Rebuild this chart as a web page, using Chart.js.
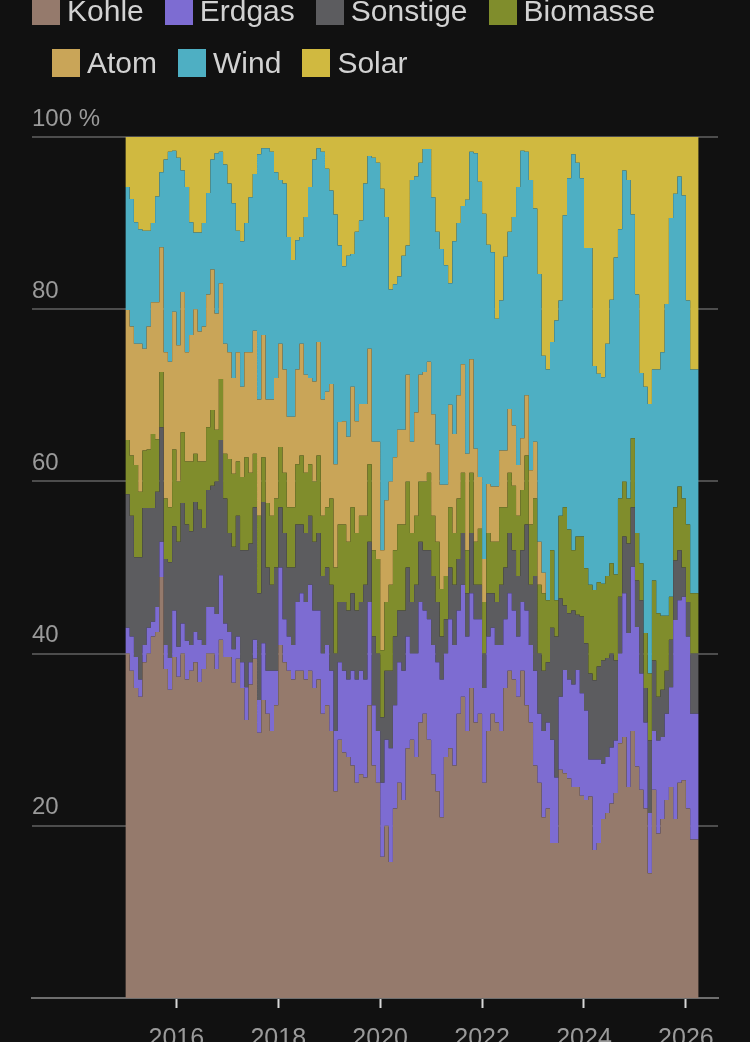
<!DOCTYPE html>
<html lang="de">
<head>
<meta charset="utf-8">
<title>Strommix</title>
<script src="https://cdn.jsdelivr.net/npm/chart.js@4.4.1/dist/chart.umd.min.js"></script>
<style>
    html, body { margin: 0; padding: 0; background: #111111; overflow: hidden; }
    #wrap { position: relative; width: 750px; height: 1042px; }
    #chart { position: absolute; left: 0; top: 0; }
    .legend-row {
        position: absolute; display: flex; align-items: flex-start;
        font-family: "Liberation Sans", Arial, sans-serif; font-size: 30px; line-height: 28px;
        color: #d2d2d2; white-space: nowrap;
    }
    .legend-item { display: flex; align-items: flex-start; margin-right: 21px; }
    .legend-box { width: 28px; height: 28px; margin-right: 7px; }
</style>
</head>
<body>
<div id="wrap">
    <canvas id="chart" width="750" height="1042"></canvas>
    <div id="legendRow1" class="legend-row" style="left:32px; top:-3px;"></div>
    <div id="legendRow2" class="legend-row" style="left:52px; top:49px;"></div>
</div>
<script>
// monthly shares in %, Jan 2015 .. Mar 2026
const startYear = 2015;
const seriesNames = ['Kohle', 'Erdgas', 'Sonstige', 'Biomasse', 'Atom', 'Wind', 'Solar'];
const seriesColors = ['#957a6c', '#7d6cd2', '#5c5c5f', '#808d2c', '#c9a558', '#4eafc3', '#d0b940'];
const xTicks = [2016, 2018, 2020, 2022, 2024, 2026];

const kohle = [
    42, 40, 38, 36, 35, 39, 40, 42, 42.5, 48.9, 38.2, 35.8,
    39.6, 37.3, 40, 37, 38, 39, 36.7, 38.2, 40, 40, 38.2, 41.6,
    39.6, 39.6, 36.6, 39.4, 36, 32.3, 36.4, 39.4, 30.8, 34.6, 33, 31,
    34, 41, 39, 38, 37, 38, 38, 37, 38, 36, 37, 33,
    34, 31, 24, 30, 28.5, 28, 27, 25, 26, 25.6, 34, 27,
    25, 16.4, 20, 15.8, 22, 25, 23, 29, 30, 28, 32, 33,
    30, 26, 24, 21, 28, 29, 27, 33, 35, 31, 36, 32,
    33, 25, 31, 33, 32, 31, 36, 38, 37, 35, 38, 34,
    32, 27, 25, 21, 22, 18, 18, 26.5, 26.1, 25.5, 24.5, 24.5,
    23.5, 23, 23.4, 17.2, 18, 20.8, 21.5, 22.6, 23.8, 29.6, 30.3, 24.5,
    31, 26.9, 24.2, 22, 14.5, 24.2, 19.1, 20.8, 23, 24.5, 20.8, 25,
    25.3, 22, 18.4
];
const erdgas = [
    4, 3, 4, 3.6, 2, 2, 3, 1.7, 2.9, 4.1, 2.8, 3.7,
    5.4, 3.5, 3.5, 4.5, 3, 3.5, 4.9, 2.8, 5.4, 5.4, 6.4, 7.5,
    3.9, 2.9, 3.9, 2.6, 3, 3.8, 2.6, 2.2, 3.8, 6.6, 5, 7,
    4, 9, 5, 4, 4, 8, 9, 9, 10, 9, 8, 7,
    7, 7, 7, 9, 9.5, 9, 11, 12, 12, 11.4, 12, 7,
    6, 8.6, 10, 13.2, 12, 14, 15, 13, 10, 12, 14, 12,
    14, 15, 15, 16, 12, 15, 14, 12, 13, 11, 11, 12,
    11, 11, 11, 10, 9, 10, 8, 9, 8, 7, 8, 11,
    9, 11, 8, 10, 10, 12, 7.6, 8.5, 12, 11.5, 11.9, 13.6,
    11.9, 10.4, 4.3, 10.5, 9.7, 6.4, 6.5, 6.5, 6.1, 10.4, 16.7, 17.9,
    19.1, 16.2, 13.5, 10, 7, 6.8, 10.8, 9.5, 10, 11.6, 23.1, 21.2,
    21.3, 20, 14.6
];
const sonstige = [
    17, 15.5, 14, 11.6, 14.2, 15.9, 13.9, 13.2, 13.4, 13.3, 10, 11.1,
    9.8, 12.2, 14, 13.5, 13.2, 15.1, 15.1, 13.6, 13.6, 14.1, 15.4, 15.7,
    14.5, 11.5, 11.9, 14, 13, 15.9, 13.8, 15.4, 12.4, 16.4, 12, 10,
    12, 7, 10, 8, 9, 9, 8, 8, 8, 8, 9, 9,
    9, 10, 9, 7, 8, 8, 9, 8, 8, 11, 7, 8,
    9, 7.6, 8, 9, 8, 6, 7, 8, 6, 8, 7, 7,
    8, 8, 7, 5, 4, 6, 7, 6, 6, 5, 7, 4,
    4, 4, 5, 4, 5, 7, 6, 7, 7, 7, 6, 10,
    7, 11, 7, 7, 7, 13, 16.4, 11.4, 7.5, 7.7, 8.6, 6.4,
    8.9, 7.8, 10, 9.2, 10.8, 12, 11.5, 10.9, 9.3, 6.6, 6.6, 10.4,
    6.9, 5.4, 8.5, 4, 8.4, 8.2, 5.1, 5.5, 5, 5.5, 6.9, 5.8,
    3.4, 4, 7
];
const biomasse = [
    6, 6.3, 7, 10.7, 7.6, 6.7, 6.8, 8.6, 6.1, 6.4, 7, 6.4,
    8.9, 7, 8.2, 7.3, 8.1, 5.6, 5.6, 7.7, 7.3, 8.8, 6, 7.1,
    5.2, 8.6, 8.5, 6.3, 8.5, 10.8, 8.2, 6.2, 9, 5.2, 7.5, 8,
    8, 7, 7, 7, 7, 7, 8, 7, 6, 7, 9, 7,
    7, 10, 10, 9, 9, 8, 10, 9, 10, 8, 9, 10,
    11, 7.8, 8, 10, 10, 10, 10, 10, 8, 8, 7, 8,
    9, 7, 7, 5.5, 5, 7, 6, 7, 7, 5, 7, 5,
    6.5, 6, 7, 6, 7, 9, 7, 7, 7.5, 7, 7, 8,
    7, 9, 8, 9, 7.2, 9, 4.2, 9.6, 11.4, 9.7, 7, 9.1,
    9.3, 8.7, 10.3, 10.5, 9.8, 8.9, 9.5, 10.5, 10, 11.4, 6.4, 5.2,
    8, 5.5, 4.3, 6.4, 7.8, 9.3, 9.7, 8.6, 6.4, 5, 6.2, 7.4,
    8, 9, 7
];
const atom = [
    15, 15.1, 15, 14.1, 17.2, 11.8, 14.3, 15.3, 15.9, 14.5, 17, 16.9,
    16, 15.8, 16.3, 12.7, 14.7, 16.8, 15.1, 15.7, 15.4, 16.3, 13.5, 11.1,
    12.8, 12.4, 11.1, 12.7, 10.5, 12.2, 14, 14.3, 13.5, 14.2, 12, 13.5,
    14, 12, 12, 10.5, 10.5, 11, 13, 11.4, 10, 11.6, 13.2, 13.5,
    13.4, 13.3, 12, 11.9, 12, 12.2, 14, 13, 13, 13, 13.4, 12.6,
    13.6, 11.6, 11.8, 12, 10.8, 11, 11, 12.4, 10.6, 12, 12.4, 12.7,
    12.9, 11.8, 11.3, 12.1, 10.6, 11.9, 11.5, 12, 12.6, 11.2, 13.2, 10.8,
    6, 5, 5.7, 6.4, 6.4, 6.6, 6.6, 7.4, 7, 5.9, 6, 7,
    6.3, 6.6, 5, 2.4, 0, 0, 0, 0, 0, 0, 0, 0,
    0, 0, 0, 0, 0, 0, 0, 0, 0, 0, 0, 0,
    0, 0, 0, 0, 0, 0, 0, 0, 0, 0, 0, 0,
    0, 0, 0
];
const wind = [
    15, 14.3, 14.8, 14.1, 13.3, 13.7, 11.1, 9.2, 12.3, 8.7, 22.4, 24.4,
    18.7, 21.8, 14.1, 19.2, 13.1, 8.9, 11.5, 12, 11.8, 12.8, 18.6, 15.3,
    20.8, 19.6, 20.3, 14.1, 16.9, 15, 18, 18.2, 28.5, 21.7, 29.2, 28.8,
    23.9, 19, 21.6, 20.9, 18.2, 15, 12.4, 18.3, 22.2, 25.8, 22.5, 28.8,
    25.9, 22.5, 29, 20.5, 18, 21, 15.4, 22, 21.3, 25.6, 22.4, 33,
    32.4, 42, 32.9, 22.3, 20.1, 17.8, 20.2, 15, 30.4, 27.4, 24.6, 25.9,
    24.7, 25.2, 24.7, 27.4, 25.5, 14.1, 22.4, 20, 18.4, 29.5, 24.1, 34.3,
    34.3, 40.1, 27.8, 27.2, 19.5, 17.4, 22.5, 20.6, 24.2, 32.3, 33.4, 28.3,
    33.7, 27.1, 31.1, 25.2, 26.8, 24.2, 32.5, 25, 33.9, 40.8, 46, 43.4,
    41.6, 37.2, 39.1, 26, 24.2, 24, 27, 30.6, 36.8, 31.3, 36.1, 37,
    26, 27.7, 22.1, 28.6, 31.3, 24.5, 28.3, 30.6, 36.2, 44, 36.4, 36,
    35.2, 26, 26
];
const solar = [
    1, 5.8, 7.2, 9.9, 10.7, 10.9, 10.9, 10, 6.9, 4.1, 2.6, 1.7,
    1.6, 2.4, 3.9, 5.8, 9.9, 11.1, 11.1, 10, 6.5, 2.6, 1.9, 1.7,
    3.2, 5.4, 7.7, 10.9, 12.1, 10, 7, 4.3, 2, 1.3, 1.3, 1.7,
    4.1, 5, 5.4, 11.6, 14.3, 12, 11.6, 9.3, 5.8, 2.6, 1.3, 1.7,
    3.7, 6.2, 9, 12.6, 15, 13.8, 13.6, 11, 9.7, 5.4, 2.2, 2.4,
    3, 6, 9.3, 17.7, 17.1, 16.2, 13.8, 12.6, 5, 4.6, 3, 1.4,
    1.4, 7, 11, 13, 14.9, 17, 12.1, 10, 8, 7.3, 1.7, 1.9,
    5.2, 8.9, 12.5, 13.4, 21.1, 19, 13.9, 11, 9.3, 5.8, 1.6, 1.7,
    5, 8.3, 15.9, 25.4, 27, 23.8, 21.3, 19, 9.1, 4.8, 2, 3,
    4.8, 12.9, 12.9, 26.6, 27.5, 27.9, 24, 18.9, 14, 10.7, 3.9, 5,
    9, 18.3, 27.4, 29, 31, 27, 27, 25, 19.4, 9.4, 6.6, 4.6,
    6.8, 19, 27
];

const seriesValues = [kohle, erdgas, sonstige, biomasse, atom, wind, solar];

// one step per month, closing point so the last month has its full width
function toPoints(values) {
    const pts = values.map((v, i) => ({ x: startYear + i / 12, y: v }));
    pts.push({ x: startYear + values.length / 12, y: values[values.length - 1] });
    return pts;
}

function buildLegend() {
    const rows = [document.getElementById('legendRow1'), document.getElementById('legendRow2')];
    seriesNames.forEach((name, i) => {
        const item = document.createElement('div');
        item.className = 'legend-item';
        item.innerHTML = `<span class="legend-box" style="background:${seriesColors[i]}"></span><span>${name}</span>`;
        rows[i < 4 ? 0 : 1].appendChild(item);
    });
}

const tickFont = { family: '"Liberation Sans", Arial, sans-serif', size: 24 };

new Chart(document.getElementById('chart'), {
    type: 'line',
    data: {
        datasets: seriesNames.map((name, i) => ({
            label: name,
            data: toPoints(seriesValues[i]),
            backgroundColor: seriesColors[i],
            borderColor: 'rgba(0,0,0,0)',
            borderWidth: 0,
            pointRadius: 0,
            stepped: 'after',
            fill: i === 0 ? 'origin' : '-1'
        }))
    },
    options: {
        responsive: false,
        animation: false,
        layout: { padding: { left: 32, right: 32, top: 137, bottom: 0 } },
        plugins: { legend: { display: false }, tooltip: { enabled: false } },
        scales: {
            x: {
                type: 'linear',
                min: 2013.167,
                max: 2026.63,
                afterBuildTicks: scale => { scale.ticks = xTicks.map(v => ({ value: v })); },
                afterFit: scale => { scale.height = 44; },
                grid: { drawOnChartArea: false, drawTicks: true, tickLength: 10, tickColor: '#d8d8d8', tickWidth: 2 },
                border: { display: true, color: '#6e6e6e', width: 2 },
                ticks: {
                    autoSkip: false, maxRotation: 0, padding: 16, color: '#9a9a9a',
                    font: { ...tickFont, size: 25 },
                    callback: v => String(v)
                }
            },
            y: {
                stacked: true,
                min: 0,
                max: 100,
                afterFit: scale => { scale.width = 0; },
                grid: { color: '#4d4d4d', lineWidth: 2, drawTicks: false },
                border: { display: false },
                ticks: {
                    stepSize: 20, mirror: true, padding: 0, labelOffset: -18, color: '#9a9a9a',
                    font: tickFont,
                    callback: v => (v === 0 ? '' : v === 100 ? '100 %' : String(v))
                }
            }
        }
    }
});

buildLegend();
</script>
</body>
</html>
